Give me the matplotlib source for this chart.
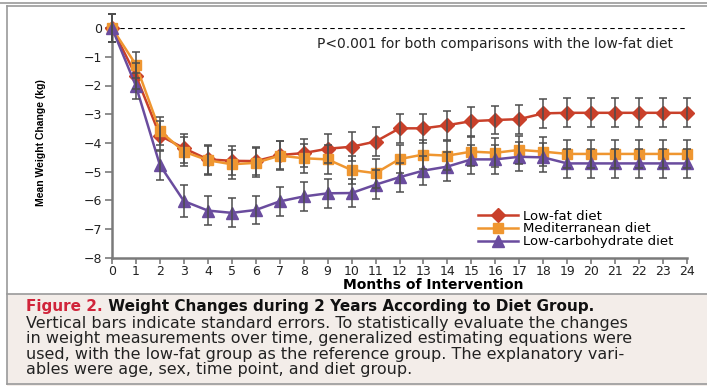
import matplotlib.pyplot as plt
from matplotlib.lines import Line2D
from matplotlib.patches import Rectangle

# values (kg), months 0..24
months = list(range(25))
low_fat = [0, -1.66, -3.74, -4.18, -4.57, -4.62, -4.63, -4.42, -4.35, -4.2, -4.13, -3.95,
           -3.49, -3.49, -3.38, -3.24, -3.2, -3.17, -2.97, -2.95, -2.95, -2.95, -2.95, -2.95, -2.95]
mediterranean = [0, -1.28, -3.58, -4.3, -4.6, -4.74, -4.69, -4.44, -4.53, -4.57, -4.94, -5.05,
                 -4.56, -4.4, -4.44, -4.3, -4.34, -4.24, -4.3, -4.38, -4.38, -4.38, -4.38, -4.38, -4.38]
low_carb = [0, -2.02, -4.77, -6.02, -6.35, -6.43, -6.33, -6.03, -5.86, -5.75, -5.74, -5.45,
            -5.19, -4.96, -4.82, -4.57, -4.57, -4.48, -4.5, -4.71, -4.71, -4.71, -4.71, -4.71, -4.71]
se_low_fat = [0.5, 0.45, 0.5, 0.5, 0.5, 0.5, 0.5, 0.5, 0.5, 0.5, 0.5, 0.5,
              0.5, 0.5, 0.5, 0.5, 0.5, 0.5, 0.5, 0.5, 0.5, 0.5, 0.5, 0.5, 0.5]
se_mediterranean = [0.5, 0.45, 0.5, 0.5, 0.5, 0.5, 0.5, 0.5, 0.5, 0.5, 0.5, 0.5,
                    0.5, 0.5, 0.5, 0.5, 0.5, 0.5, 0.5, 0.5, 0.5, 0.5, 0.5, 0.5, 0.5]
se_low_carb = [0.5, 0.45, 0.5, 0.55, 0.5, 0.5, 0.5, 0.5, 0.5, 0.5, 0.5, 0.5,
               0.5, 0.5, 0.5, 0.5, 0.5, 0.5, 0.5, 0.5, 0.5, 0.5, 0.5, 0.5, 0.5]

series = [
    ('Low-fat diet', low_fat, se_low_fat, '#c9402a', 'D', 7.5),
    ('Mediterranean diet', mediterranean, se_mediterranean, '#ef9630', 's', 7),
    ('Low-carbohydrate diet', low_carb, se_low_carb, '#6a4c9e', '^', 8.5),
]

y_ticks = [0, -1, -2, -3, -4, -5, -6, -7, -8]

caption_title = 'Weight Changes during 2 Years According to Diet Group.'
caption_lines = [
    'Vertical bars indicate standard errors. To statistically evaluate the changes',
    'in weight measurements over time, generalized estimating equations were',
    'used, with the low-fat group as the reference group. The explanatory vari-',
    'ables were age, sex, time point, and diet group.',
]

W, H = 707, 387
fig = plt.figure(figsize=(W / 100, H / 100), dpi=100)
fig.patch.set_facecolor('white')

# frame and caption panel
fig.add_artist(Rectangle((7 / W, 1 / H), 1 - 7 / W, (H - 294) / H - 1 / H,
                         transform=fig.transFigure, facecolor='#f3ede9', edgecolor='none', zorder=0))
for yy in [3, 6, 294, 384]:
    fig.add_artist(Line2D([7 / W if yy > 4 else 0, 1], [1 - yy / H, 1 - yy / H],
                          transform=fig.transFigure, color='#9a9a9a', lw=1.2))
fig.add_artist(Line2D([7 / W, 7 / W], [1 - 6 / H, 1 - 384 / H],
                      transform=fig.transFigure, color='#9a9a9a', lw=1.2))

ax = fig.add_axes([112 / W, 1 - 258 / H, 575 / W, 230 / H])
ax.set_facecolor('none')

ax.axhline(0, color='black', lw=0.8, dashes=(4, 3), zorder=1)

for name, vals, se, col, mk, ms in series:
    ax.plot(months, vals, color=col, lw=1.8, marker=mk, markersize=ms,
            label=name, clip_on=False, zorder=3)
for name, vals, se, col, mk, ms in series:
    ax.errorbar(months, vals, yerr=se, fmt='none', ecolor='#4d4d4d', elinewidth=1.1,
                capsize=3, capthick=1.1, clip_on=False, zorder=4)

ax.set_xlim(0, 24)
ax.set_ylim(-8, 0)
ax.set_xticks(months)
ax.set_yticks(y_ticks)
ax.tick_params(axis='both', colors='#7a7a7a', labelcolor='#222222', labelsize=9, width=1.2)
ax.tick_params(axis='x', length=4, pad=1)
ax.tick_params(axis='y', length=5, pad=2)
for s in ['top', 'right']:
    ax.spines[s].set_visible(False)
for s in ['left', 'bottom']:
    ax.spines[s].set_color('#7a7a7a')
    ax.spines[s].set_linewidth(1.8)

ax.set_ylabel('Mean Weight Change (kg)', fontsize=7.5, fontweight='bold',
              family=['Liberation Sans Narrow', 'Liberation Sans'])
ax.yaxis.set_label_coords(-0.115, 0.5)
ax.set_xlabel('Months of Intervention', fontsize=10, fontweight='bold', va='center')
ax.xaxis.set_label_coords(0.558, -0.117)

ax.text(0.976, 0.93, 'P<0.001 for both comparisons with the low-fat diet',
        transform=ax.transAxes, ha='right', va='center', fontsize=10, color='#222222')

ax.legend(loc='center left', bbox_to_anchor=(478 / W, 1 - 229 / H), bbox_transform=fig.transFigure,
          frameon=False, fontsize=9.5, handlelength=3.0, handletextpad=0.4,
          labelspacing=0.0, borderpad=0, borderaxespad=0)

t1 = fig.text(26 / W, 1 - 307 / H, 'Figure 2.', color='#d0243a', fontsize=11,
              fontweight='bold', va='center', ha='left')
ax.annotate(' ' + caption_title, xy=(1, 0.5), xycoords=t1, va='center', ha='left',
            fontsize=11, fontweight='bold', color='#111111', annotation_clip=False)

for i, line in enumerate(caption_lines):
    fig.text(26 / W, 1 - (323.5 + i * 15.3) / H, line, fontsize=11.5, color='#222222',
             va='center', ha='left')

fig.savefig('out.png', dpi=100)
